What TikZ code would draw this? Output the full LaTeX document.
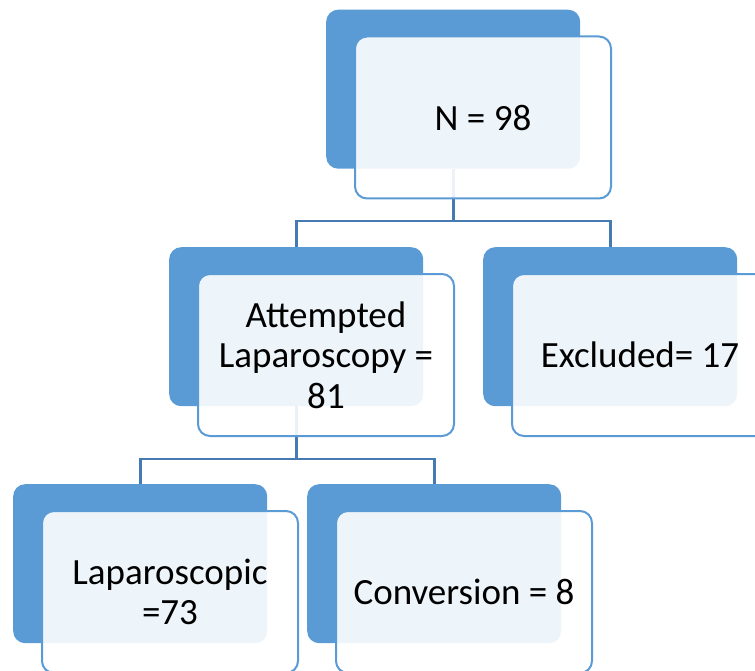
\documentclass[tikz,border=0pt]{standalone}
\usepackage{fontspec}
\setmainfont{Carlito}
\usetikzlibrary{calc}
\definecolor{accent}{HTML}{5B9BD5}
\definecolor{linkblue}{HTML}{467AB3}
\tikzset{
  backbox/.style={rectangle, rounded corners=12pt, fill=accent, draw=none,
    minimum width=254pt, minimum height=159pt, inner sep=0pt, anchor=north west},
  frontbox/.style={rectangle, rounded corners=12pt, draw=accent, line width=2pt,
    fill=white, fill opacity=0.9, text opacity=1, text=black,
    minimum width=256pt, minimum height=162pt, inner sep=0pt, anchor=north west,
    align=center, font=\fontsize{37}{40.5}\selectfont},
  conn/.style={draw=linkblue, line width=2.6pt}
}
\begin{document}
\begin{tikzpicture}[x=1pt,y=-1pt]
\useasboundingbox (0,0) rectangle (755,671);
\clip (0,0) rectangle (755,671);

% back panels
\node[backbox] (topBack) at (326,9.5) {};
\node[backbox] (leftBack) at (169,247) {};
\node[backbox] (rightBack) at (483,247) {};
\node[backbox] (lapBack) at (13,484) {};
\node[backbox] (convBack) at (307,484) {};

% connectors between levels
\coordinate (barA) at (0,221);
\coordinate (barB) at (0,459);
\draw[conn] (topBack.south) -- (topBack.south |- barA) -| (leftBack.north);
\draw[conn] (topBack.south |- barA) -| (rightBack.north);
\draw[conn] (leftBack.south) -- (leftBack.south |- barB) -| (lapBack.north);
\draw[conn] (leftBack.south |- barB) -| (convBack.north);

% front panels with the labels
\node[frontbox] (topBox) at ($(topBack.north west)+(28,26)$) {N = 98};
\node[frontbox] (leftBox) at ($(leftBack.north west)+(28,26)$) {Attempted\\Laparoscopy =\\81};
\node[frontbox] (rightBox) at ($(rightBack.north west)+(28,26)$) {Excluded= 17};
\node[frontbox] (lapBox) at ($(lapBack.north west)+(28,26)$) {Laparoscopic\\=73};
\node[frontbox] (convBox) at ($(convBack.north west)+(28,26)$) {Conversion = 8};
\end{tikzpicture}
\end{document}
